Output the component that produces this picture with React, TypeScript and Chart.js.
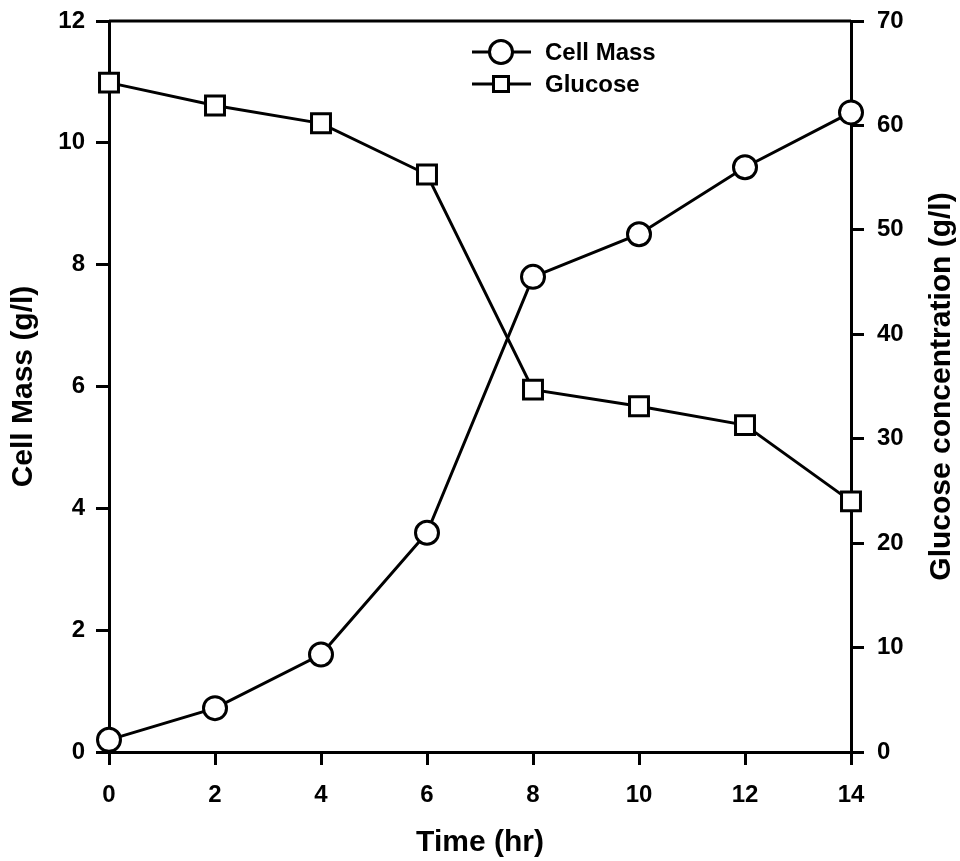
import React, { useEffect, useRef } from 'react';
import { Chart, registerables } from 'chart.js';

Chart.register(...registerables);

const FONT = '"Liberation Sans", Arial, Helvetica, sans-serif';

const timeHr = [0, 2, 4, 6, 8, 10, 12, 14];
const cellMass = [0.2, 0.72, 1.6, 3.6, 7.8, 8.5, 9.6, 10.5];
const glucose = [64.1, 61.9, 60.2, 55.3, 34.7, 33.1, 31.3, 24.0];

const seriesLabels = ['Cell Mass', 'Glucose'];
const xTitle = 'Time (hr)';
const yLeftTitle = 'Cell Mass (g/l)';
const yRightTitle = 'Glucose concentration (g/l)';

const xRange = [0, 14, 2];
const yLeftRange = [0, 12, 2];
const yRightRange = [0, 70, 10];

const TICK_FONT = { family: FONT, size: 24, weight: 'bold' as const };
const LINE_W = 3;

const overlayPlugin = {
  id: 'overlay',
  afterDraw(chart: any) {
    const { ctx, chartArea: ca } = chart;
    ctx.save();
    ctx.strokeStyle = '#000';
    ctx.lineWidth = LINE_W;
    ctx.beginPath();
    ctx.moveTo(ca.left, ca.top);
    ctx.lineTo(ca.right, ca.top);
    ctx.stroke();

    ctx.fillStyle = '#000';
    ctx.font = `bold 30px ${FONT}`;
    ctx.textAlign = 'center';
    ctx.textBaseline = 'alphabetic';
    const midX = (ca.left + ca.right) / 2;
    const midY = (ca.top + ca.bottom) / 2;
    ctx.fillText(xTitle, midX, ca.bottom + 99);

    ctx.save();
    ctx.translate(ca.left - 77, midY);
    ctx.rotate(-Math.PI / 2);
    ctx.fillText(yLeftTitle, 0, 0);
    ctx.restore();

    ctx.save();
    ctx.translate(ca.right + 99, midY);
    ctx.rotate(-Math.PI / 2);
    ctx.fillText(yRightTitle, 0, 0);
    ctx.restore();

    // legend
    const datasets = chart.data.datasets;
    datasets.forEach((ds: any, i: number) => {
      const y = ca.top + 31 + i * 32;
      const x0 = midX - 8;
      const x1 = midX + 51;
      const cx = midX + 21;
      ctx.strokeStyle = '#000';
      ctx.lineWidth = LINE_W;
      ctx.beginPath();
      ctx.moveTo(x0, y);
      ctx.lineTo(x1, y);
      ctx.stroke();
      ctx.fillStyle = '#fff';
      ctx.beginPath();
      if (ds.pointStyle === 'circle') {
        ctx.arc(cx, y, 11.5, 0, Math.PI * 2);
      } else {
        ctx.rect(cx - 7.5, y - 7.5, 15, 15);
      }
      ctx.fill();
      ctx.stroke();
      ctx.fillStyle = '#000';
      ctx.font = `bold 24px ${FONT}`;
      ctx.textAlign = 'left';
      ctx.textBaseline = 'middle';
      ctx.fillText(ds.label, midX + 65, y + 1);
    });
    ctx.restore();
  },
};

export default function App() {
  const ref = useRef<HTMLCanvasElement>(null);
  useEffect(() => {
    document.body.style.margin = '0';
    const canvas = ref.current!;
    const axisCommon = {
      grid: {
        drawOnChartArea: false,
        drawTicks: true,
        tickLength: 13,
        color: '#000',
        lineWidth: LINE_W,
      },
      border: { display: true, color: '#000', width: LINE_W },
      title: { display: false },
    };
    const zeroPad = (s: any) => {
      s.paddingTop = 0;
      s.paddingBottom = 0;
      s.paddingLeft = 0;
      s.paddingRight = 0;
    };
    const chart = new Chart(canvas, {
      type: 'line',
      data: {
        datasets: [
          {
            label: seriesLabels[0],
            data: timeHr.map((t, i) => ({ x: t, y: cellMass[i] })),
            yAxisID: 'y',
            borderColor: '#000',
            borderWidth: LINE_W,
            pointStyle: 'circle',
            pointRadius: 11.5,
            pointBackgroundColor: '#fff',
            pointBorderColor: '#000',
            pointBorderWidth: LINE_W,
            tension: 0,
            clip: false as any,
          },
          {
            label: seriesLabels[1],
            data: timeHr.map((t, i) => ({ x: t, y: glucose[i] })),
            yAxisID: 'y1',
            borderColor: '#000',
            borderWidth: LINE_W,
            pointStyle: 'rect',
            pointRadius: 13.4,
            pointBackgroundColor: '#fff',
            pointBorderColor: '#000',
            pointBorderWidth: LINE_W,
            tension: 0,
            clip: false as any,
          },
        ],
      },
      options: {
        responsive: false,
        animation: false,
        events: [],
        layout: { padding: { top: 21, left: 0, right: 0, bottom: 0 } },
        plugins: { legend: { display: false }, tooltip: { enabled: false } },
        scales: {
          x: {
            type: 'linear',
            position: 'bottom',
            min: xRange[0],
            max: xRange[1],
            ticks: { stepSize: xRange[2], font: TICK_FONT, color: '#000', padding: 16, maxRotation: 0 },
            ...axisCommon,
            afterFit: (s: any) => { s.height = 109; zeroPad(s); },
          },
          y: {
            type: 'linear',
            position: 'left',
            min: yLeftRange[0],
            max: yLeftRange[1],
            ticks: { stepSize: yLeftRange[2], font: TICK_FONT, color: '#000', padding: 11 },
            ...axisCommon,
            afterFit: (s: any) => { s.width = 109; zeroPad(s); },
          },
          y1: {
            type: 'linear',
            position: 'right',
            min: yRightRange[0],
            max: yRightRange[1],
            ticks: { stepSize: yRightRange[2], font: TICK_FONT, color: '#000', padding: 13 },
            ...axisCommon,
            afterFit: (s: any) => { s.width = 109; zeroPad(s); },
          },
        },
      } as any,
      plugins: [overlayPlugin],
    });
    return () => chart.destroy();
  }, []);
  return (
    <div style={{ width: 960, height: 861, background: '#fff' }}>
      <canvas ref={ref} width={960} height={861} />
    </div>
  );
}
